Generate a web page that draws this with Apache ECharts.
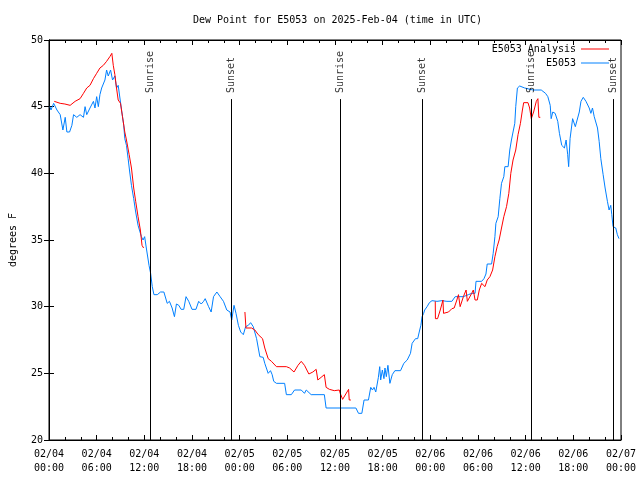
<!DOCTYPE html>
<html><head><meta charset="utf-8">
<script src="https://cdn.jsdelivr.net/npm/echarts@6/dist/echarts.min.js"></script>
<style>html,body{margin:0;padding:0;background:#fff}#c{width:640px;height:480px}</style>
</head><body><div id="c"></div>
<script>
// Hours since 2025-02-04 00:00 UTC
const obsHours = [0.12,0.25,0.59,1.0,1.41,1.75,2.04,2.25,2.59,2.88,3.09,3.5,3.91,4.34,4.54,4.75,5.16,5.59,5.79,6.0,6.21,6.41,6.63,7.04,7.25,7.46,7.75,8.0,8.29,8.5,8.71,8.91,9.13,9.25,9.41,9.54,9.75,9.96,10.16,10.38,10.66,10.91,11.21,11.63,11.84,12.04,12.25,12.59,12.79,13.0,13.21,13.63,14.04,14.46,14.88,15.16,15.5,15.79,16.04,16.34,16.63,16.96,17.25,17.59,18.0,18.5,18.84,19.16,19.46,19.66,20.09,20.41,20.71,21.13,21.54,21.96,22.38,22.79,23.0,23.29,23.54,23.84,24.13,24.46,24.75,25.09,25.38,25.71,26.13,26.54,26.96,27.16,27.59,27.88,28.09,28.29,28.63,29.66,29.88,30.5,30.91,31.75,32.16,32.38,33.0,34.66,34.88,36.75,38.63,38.96,39.38,39.66,40.21,40.5,40.71,40.91,41.13,41.46,41.63,41.75,41.96,42.16,42.29,42.46,42.66,42.91,43.21,43.54,44.25,44.46,44.66,45.09,45.5,45.71,46.13,46.41,46.66,46.81,46.96,47.16,47.29,47.59,47.88,48.21,48.84,49.46,50.09,50.71,50.91,51.13,52.16,52.79,53.21,53.63,53.75,54.46,54.75,55.0,55.16,55.71,55.91,56.13,56.25,56.54,56.75,56.96,57.25,57.38,57.79,58.0,58.21,58.41,58.63,58.75,58.96,59.25,59.88,60.91,61.96,62.5,62.79,63.09,63.21,63.41,63.71,64.04,64.25,64.54,64.88,65.09,65.29,65.41,65.59,65.91,66.25,66.5,66.75,66.96,67.25,67.59,68.0,68.21,68.41,68.63,69.04,69.25,69.46,69.75,70.0,70.29,70.5,70.71,70.84,71.0,71.34,71.54,71.75];
const obsDew = [45.0,44.75,45.25,44.75,44.4,43.25,44.2,43.1,43.1,43.6,44.4,44.2,44.4,44.2,45.0,44.4,44.9,45.4,44.9,45.75,45.0,45.9,46.4,47.0,47.75,47.3,47.75,47.0,47.3,46.4,46.6,46.75,44.75,44.9,43.6,42.6,42.1,41.1,40.1,39.1,38.1,37.1,36.1,35.25,35.0,35.25,34.4,33.1,32.5,31.5,30.9,30.9,31.1,31.1,30.25,30.4,29.9,29.25,30.2,30.1,29.8,29.8,30.75,30.4,29.8,29.8,30.4,30.2,30.4,30.6,30.0,29.6,30.75,31.1,30.75,30.4,29.75,29.6,29.0,30.1,29.5,28.6,28.1,27.9,28.5,28.6,28.8,28.5,27.6,26.25,26.2,25.75,25.0,25.2,24.9,24.4,24.25,24.25,23.4,23.4,23.75,23.75,23.5,23.75,23.4,23.4,22.4,22.4,22.4,22.0,22.0,23.0,23.0,23.95,23.75,23.95,23.6,24.7,25.5,24.5,25.25,24.6,25.4,24.75,25.6,24.25,24.9,25.2,25.2,25.1,25.75,26.0,26.5,27.25,27.6,27.6,28.25,28.6,29.25,29.5,29.75,30.0,30.3,30.45,30.4,30.45,30.4,30.4,30.4,30.75,30.75,30.9,31.0,31.0,31.9,31.9,32.1,32.45,33.2,33.2,34.0,35.25,36.25,36.75,38.1,39.25,39.75,40.5,40.5,41.75,42.5,43.1,43.75,45.0,46.4,46.55,46.4,46.25,46.25,46.0,45.75,45.1,44.1,44.6,44.5,43.9,43.0,42.1,41.9,42.5,41.4,40.5,42.6,44.1,43.5,43.5,44.6,45.4,45.7,45.4,44.9,44.5,44.9,44.25,43.4,42.4,41.1,39.9,38.9,37.9,37.25,37.6,36.9,36.0,35.9,35.4,35.1];
// Analysis (null = gap)
const anaHours = [0.66,1.41,2.0,2.66,3.29,3.91,4.34,4.75,5.16,5.59,6.0,6.41,6.84,7.25,7.66,7.91,8.09,8.29,8.5,8.71,9.0,9.25,9.54,9.75,10.09,10.38,10.66,10.91,11.21,11.5,11.71,11.91,18,24.66,24.79,25.5,25.91,26.34,26.88,27.16,27.59,28.0,28.63,29.88,30.29,30.84,31.34,31.75,32.16,32.71,33.21,33.63,33.84,34.25,34.66,34.88,35.29,35.91,36.54,36.66,36.96,37.71,37.79,38.0,43,48.62,48.64,48.91,49.25,49.59,49.66,49.88,50.29,50.71,51.0,51.34,51.54,51.75,51.96,52.16,52.5,52.66,52.91,53.21,53.41,53.63,53.91,54.16,54.46,54.66,54.88,55.16,55.5,55.84,56.13,56.41,56.66,56.96,57.25,57.59,57.88,58.13,58.41,58.75,59.04,59.34,59.59,59.75,60.29,60.5,60.71,61.0,61.34,61.54,61.66,61.84];
const anaDew = [45.4,45.25,45.2,45.1,45.4,45.6,46.0,46.4,46.6,47.1,47.5,47.9,48.1,48.4,48.75,49.0,48.1,47.4,46.4,45.5,45.25,44.25,43.1,42.5,41.4,40.4,38.9,37.9,36.75,35.75,34.6,34.4,null,29.6,28.4,28.4,28.25,27.9,27.6,26.9,26.1,25.9,25.5,25.5,25.4,25.1,25.6,25.9,25.6,24.95,25.1,25.3,24.5,24.7,24.9,23.95,23.8,23.7,23.75,23.5,23.05,23.8,23.0,23.0,null,30.4,29.1,29.1,29.75,30.5,29.5,29.4,29.6,29.85,29.9,30.5,30.9,30.0,30.1,30.75,31.25,30.4,30.5,31.0,31.25,30.5,30.5,31.25,31.75,31.9,31.5,32.0,32.25,32.75,33.75,34.5,35.0,35.9,36.75,37.5,38.5,40.0,41.0,41.75,42.9,43.75,44.75,45.3,45.3,44.9,44.1,44.6,45.4,45.6,44.2,44.2];
const sunHours = [12.79,22.92,36.67,46.96,60.71,71.0];
const sunNames = ['Sunrise','Sunset','Sunrise','Sunset','Sunrise','Sunset'];
const xTickLabels = ['02/04\n00:00','02/04\n06:00','02/04\n12:00','02/04\n18:00','02/05\n00:00','02/05\n06:00','02/05\n12:00','02/05\n18:00','02/06\n00:00','02/06\n06:00','02/06\n12:00','02/06\n18:00','02/07\n00:00'];
const seriesNames = ['E5053 Analysis','E5053'];

const FONT = 'DejaVu Sans Mono';
const pair = (hs, vs) => hs.map((h,i)=>[h, vs[i]===null ? '-' : vs[i]]);
const chart = echarts.init(document.getElementById('c'), null, {renderer:'canvas'});
const axisCommon = {
  axisLine:{show:true, lineStyle:{color:'#000', width:1}},
  axisTick:{show:true, inside:true, length:5, lineStyle:{color:'#000'}},
  splitLine:{show:false}
};
chart.setOption({
  animation:false,
  backgroundColor:'#fff',
  textStyle:{fontFamily:FONT},
  title:{text:'Dew Point for E5053 on 2025-Feb-04 (time in UTC)', left:188, top:10,
    textStyle:{fontFamily:FONT, fontSize:10, fontWeight:'normal', color:'#000'}},
  legend:{data:seriesNames, orient:'vertical', align:'right', right:26, top:38,
    icon:'rect', itemWidth:28, itemHeight:1, itemGap:2,
    textStyle:{fontFamily:FONT, fontSize:10, color:'#000', lineHeight:12}},
  grid:{left:46, right:19, top:40, bottom:40, show:true, borderColor:'#000', borderWidth:1},
  xAxis:[
    Object.assign({type:'value', min:0, max:72, interval:6,
      minorTick:{show:true, splitNumber:3, length:3, lineStyle:{color:'#000'}},
      axisLabel:{fontFamily:FONT, fontSize:10, color:'#000', margin:7, lineHeight:14,
        formatter:(v)=>xTickLabels[Math.round(v/6)]}}, axisCommon),
    Object.assign({type:'value', min:0, max:72, interval:6, position:'top',
      minorTick:{show:true, splitNumber:3, length:3, lineStyle:{color:'#000'}},
      axisLabel:{show:false}}, axisCommon)
  ],
  yAxis:[
    Object.assign({type:'value', min:20, max:50, interval:5, name:'degrees F', nameLocation:'middle', nameGap:31,
      nameTextStyle:{fontFamily:FONT, fontSize:10, color:'#000'},
      axisLabel:{fontFamily:FONT, fontSize:10, color:'#000', margin:6}}, axisCommon),
    Object.assign({type:'value', min:20, max:50, interval:5, position:'right', axisLabel:{show:false}}, axisCommon)
  ],
  series:[
    {name:seriesNames[0], type:'line', data:pair(anaHours, anaDew), symbol:'none', connectNulls:false,
      lineStyle:{color:'#ff0000', width:1}, itemStyle:{color:'#ff0000'}, z:3},
    {name:seriesNames[1], type:'line', data:pair(obsHours, obsDew), symbol:'none',
      lineStyle:{color:'#0080ff', width:1}, itemStyle:{color:'#0080ff'}, z:2},
    {name:'sun', type:'scatter', symbolSize:1, itemStyle:{color:'rgba(0,0,0,0)'}, z:4,
      data:sunHours.map((h,i)=>({value:[h,45.95], name:sunNames[i]})),
      label:{show:true, formatter:'{b}', rotate:90, position:'inside', align:'left', verticalAlign:'middle',
        fontFamily:FONT, fontSize:10, color:'#000', offset:[1,0]},
      markLine:{silent:true, symbol:'none', label:{show:false},
        lineStyle:{color:'#000', width:1, type:'solid'},
        data:sunHours.map(h=>[{coord:[h,20]},{coord:[h,45.57]}])}}
  ]
});
</script></body></html>
